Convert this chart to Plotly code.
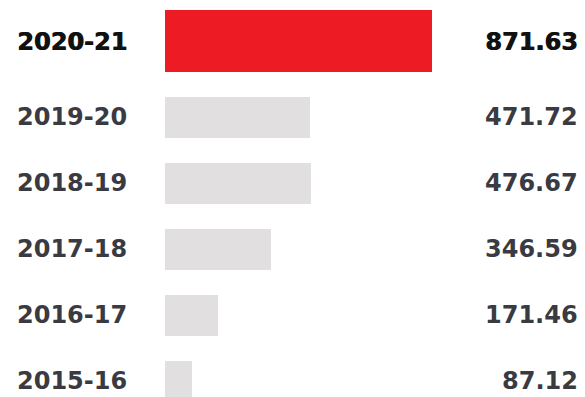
import plotly.graph_objects as go

# Season totals, newest first
seasons = ["2020-21", "2019-20", "2018-19", "2017-18", "2016-17", "2015-16"]
values = [871.63, 471.72, 476.67, 346.59, 171.46, 87.12]
highlight = "2020-21"

RED = "#ED1C24"
GREY_BAR = "#E1DFDF"
DARK = "#111111"
MID = "#3A3A42"

ROW_PX = 66            # vertical distance between rows, in pixels
TOP_ROW_PX = 51        # centre of the first category slot
LIFT_PX = 10           # the highlighted row sits a little higher

colors = [RED if s == highlight else GREY_BAR for s in seasons]
widths = [62 / ROW_PX if s == highlight else 41 / ROW_PX for s in seasons]
offsets = [-(31 + LIFT_PX) / ROW_PX if s == highlight else -20.5 / ROW_PX for s in seasons]

fig = go.Figure(
    go.Bar(
        x=values,
        y=seasons,
        orientation="h",
        marker=dict(color=colors, line=dict(width=0)),
        width=widths,
        offset=offsets,
        hoverinfo="skip",
    )
)

font_family = "DejaVu Sans"
for s, v in zip(seasons, values):
    hl = s == highlight
    col = DARK if hl else MID
    shadow = "0.8px 0 0 #111111" if hl else "none"
    shift = LIFT_PX - 1 if hl else 0
    fnt = dict(family=font_family, size=24, color=col, weight="bold", shadow=shadow)
    fig.add_annotation(
        x=15 / 585, xref="paper", y=s, yref="y", yshift=shift,
        text=s, showarrow=False, xanchor="left", yanchor="middle", font=fnt,
    )
    fig.add_annotation(
        x=1 - 5 / 585, xref="paper", y=s, yref="y", yshift=shift,
        text=f"{v:.2f}", showarrow=False, xanchor="right", yanchor="middle", font=fnt,
    )

px_per_unit = (432 - 165) / values[0]
fig.update_layout(
    width=585, height=397,
    margin=dict(l=0, r=0, t=0, b=0),
    paper_bgcolor="white", plot_bgcolor="white",
    showlegend=False,
    bargap=0,
    xaxis=dict(
        range=[-165 / px_per_unit, (585 - 165) / px_per_unit],
        visible=False, fixedrange=True,
    ),
    yaxis=dict(
        type="category", categoryorder="array", categoryarray=seasons,
        range=[(397 - TOP_ROW_PX) / ROW_PX, -TOP_ROW_PX / ROW_PX],
        visible=False, fixedrange=True,
    ),
)

fig.write_html("out.html")
